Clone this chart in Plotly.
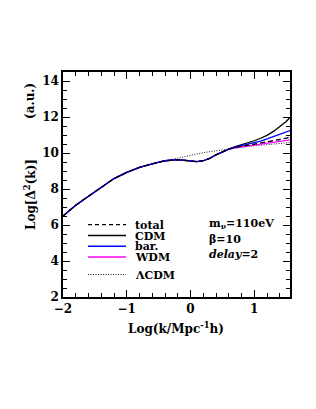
import plotly.graph_objects as go

# ---- data ----
x_low = [-2.0, -1.8, -1.6, -1.4, -1.2, -1.0, -0.8, -0.6, -0.4, -0.2, 0.0, 0.1, 0.2, 0.3, 0.4, 0.5, 0.6]
y_low = [6.50, 7.10, 7.60, 8.10, 8.58, 8.92, 9.20, 9.40, 9.57, 9.63, 9.55, 9.52, 9.57, 9.70, 9.90, 10.07, 10.22]

x_high = [0.7, 0.8, 0.9, 1.0, 1.1, 1.2, 1.3, 1.4, 1.5, 1.56]
cdm_high = [10.35, 10.45, 10.56, 10.68, 10.82, 10.98, 11.20, 11.45, 11.75, 11.97]
bar_high = [10.32, 10.40, 10.48, 10.57, 10.66, 10.78, 10.90, 11.03, 11.17, 11.25]
tot_high = [10.30, 10.36, 10.42, 10.47, 10.53, 10.60, 10.68, 10.75, 10.83, 10.88]
wdm_high = [10.29, 10.34, 10.39, 10.43, 10.48, 10.53, 10.59, 10.64, 10.70, 10.73]

x_lcdm = [-2.0, -1.8, -1.6, -1.4, -1.2, -1.0, -0.8, -0.6, -0.4, -0.2, 0.0, 0.2, 0.4, 0.6, 0.8, 1.0, 1.2, 1.4, 1.56]
y_lcdm = [6.50, 7.10, 7.60, 8.10, 8.58, 8.92, 9.20, 9.40, 9.57, 9.72, 9.87, 10.02, 10.13, 10.24, 10.32, 10.40, 10.47, 10.53, 10.58]

legend_labels = ["total", "CDM", "bar.", "WDM", "ΛCDM"]
x_ticks = [-2, -1, 0, 1]
y_ticks = [2, 4, 6, 8, 10, 12, 14]

x_all = x_low + x_high
series = {
    "WDM": (y_low + wdm_high, dict(color="#ff00ff", width=1.3)),
    "CDM": (y_low + cdm_high, dict(color="black", width=1.3)),
    "bar.": (y_low + bar_high, dict(color="#0000ff", width=1.3)),
    "total": (y_low + tot_high, dict(color="black", width=1.3, dash="5px,3px")),
}

fig = go.Figure()
fig.add_trace(go.Scatter(x=x_lcdm, y=y_lcdm, mode="lines",
                         line=dict(color="black", width=0.9, dash="1px,1.5px"), showlegend=False))
for name, (yy, ln) in series.items():
    fig.add_trace(go.Scatter(x=x_all, y=yy, mode="lines", line=ln, name=name, showlegend=False))

FONT = "DejaVu Serif"
axis_common = dict(
    showline=True, linecolor="black", linewidth=1.5, mirror="ticks",
    ticks="inside", ticklen=7, tickwidth=1.2, tickcolor="black",
    showgrid=False, zeroline=False,
    tickfont=dict(family=FONT, size=12, color="black", weight="bold"),
)
fig.update_xaxes(range=[-2, 1.56], tickvals=x_ticks,
                 minor=dict(dtick=0.2, ticks="inside", ticklen=4, tickwidth=1, tickcolor="black"),
                 **axis_common)
fig.update_yaxes(range=[2, 14.5], tickvals=y_ticks,
                 minor=dict(dtick=0.5, ticks="inside", ticklen=4, tickwidth=1, tickcolor="black"),
                 **axis_common)

# plot-area pixel geometry
L, R, T, B = 55, 282, 64, 289
W, H = 316, 409
def px(xp): return (xp - L) / (R - L)
def py(yp): return (B - yp) / (B - T)

# legend (drawn manually)
leg_y = [216.7, 227.5, 238.3, 249, 266.5]
leg_styles = [dict(color="black", width=1.3, dash="4px,3px"),
              dict(color="black", width=1.6),
              dict(color="#0000ff", width=1.6),
              dict(color="#ff00ff", width=1.3),
              dict(color="black", width=0.9, dash="1px,1.5px")]
leg_font = dict(family=FONT, size=11, color="black", weight="bold")
for lab, yv, st in zip(legend_labels, leg_y, leg_styles):
    fig.add_shape(type="line", xref="paper", yref="paper",
                  x0=px(80), x1=px(118), y0=py(yv), y1=py(yv), line=st)
    fig.add_annotation(xref="paper", yref="paper", x=px(126), y=py(yv), text=lab,
                       showarrow=False, xanchor="left", yanchor="middle", font=leg_font,
                       height=10, valign="middle", borderpad=0)

ann_font = dict(family=FONT, size=12, color="black", weight="bold")
fig.add_annotation(xref="paper", yref="paper", x=px(200), y=py(216), text="m<sub>ν</sub>=110eV",
                   showarrow=False, xanchor="left", yanchor="middle", font=leg_font, borderpad=0)
fig.add_annotation(xref="paper", yref="paper", x=px(200), y=py(231.5), text="β=10",
                   showarrow=False, xanchor="left", yanchor="middle", font=leg_font, borderpad=0)
fig.add_annotation(xref="paper", yref="paper", x=px(200), y=py(246.5), text="<i>delay</i>=2",
                   showarrow=False, xanchor="left", yanchor="middle", font=leg_font, borderpad=0)

# axis titles
fig.add_annotation(xref="paper", yref="paper", x=px(168), y=py(320), text="Log(k/Mpc<sup>-1</sup>h)",
                   showarrow=False, xanchor="center", yanchor="middle", font=ann_font)
fig.add_annotation(xref="paper", yref="paper", x=px(22), y=py(187), text="Log[Δ<sup>2</sup>(k)]",
                   textangle=-90, showarrow=False, xanchor="center", yanchor="middle", font=ann_font)
fig.add_annotation(xref="paper", yref="paper", x=px(22), y=py(93), text="(a.u.)",
                   textangle=-90, showarrow=False, xanchor="center", yanchor="middle", font=ann_font)

fig.update_layout(width=W, height=H, autosize=False,
                  margin=dict(l=L, r=W - R, t=T, b=H - B, pad=0),
                  plot_bgcolor="white", paper_bgcolor="white", showlegend=False)

fig.write_html("out.html")
